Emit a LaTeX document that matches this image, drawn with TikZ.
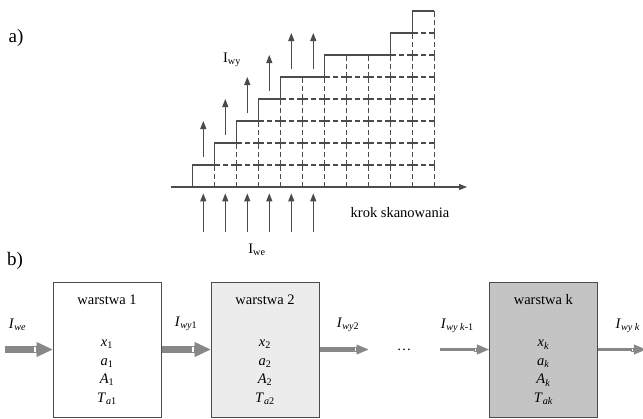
\documentclass[tikz,border=0pt]{standalone}
\usepackage{fontspec}
\setmainfont{Liberation Serif}
\usepackage{tikz}
\usetikzlibrary{arrows.meta,positioning}
\definecolor{ink}{RGB}{75,75,75}
\definecolor{pipegray}{RGB}{135,135,135}
\definecolor{layerlight}{RGB}{236,236,236}
\definecolor{layerdark}{RGB}{196,196,196}
\newcommand{\zm}[2]{\textit{#1}\textsubscript{#2}}

\begin{document}
\begin{tikzpicture}[x=1pt, y=-1pt,
  font=\fontsize{14.5}{17}\selectfont,
  outline/.style={draw=ink, line width=1.1pt},
  gridline/.style={draw=ink, line width=1.1pt, dash pattern=on 11pt off 3pt on 5pt off 3pt, dash phase=5.5pt},
  flow/.style={draw=ink, line width=1.1pt, -{Triangle[length=8pt,width=6pt]}},
  layer/.style={draw=ink, line width=1pt, minimum width=108pt, minimum height=135pt, align=center, inner sep=0pt, font=\fontsize{14.5}{18.5}\selectfont},
  tag/.style={inner sep=1pt},
  pipe/.style={draw=pipegray, line width=7pt, -{Rectangle[fill=white,length=4pt,width=7pt,line width=0.8pt]Triangle[length=16pt,width=15pt,line width=0.5pt]}},
  pipemid/.style={draw=pipegray, line width=5pt, -{Rectangle[fill=white,length=3pt,width=5pt,line width=0.7pt]Triangle[length=12pt,width=10pt,line width=0.5pt]}},
  pipethin/.style={draw=pipegray, line width=3.5pt, -{Rectangle[fill=white,length=3pt,width=3.5pt,line width=0.6pt]Triangle[length=12pt,width=10pt,line width=0.5pt]}},
]
  \useasboundingbox (0,0) rectangle (643,418);

  \node (parta) at (16,38) {\fontsize{19}{22}\selectfont a)};
  \node (partb) at (15,261) {\fontsize{19}{22}\selectfont b)};

  \draw[flow] (171,187) -- (467,187);
  \begin{scope}[shift={(192.3,187)}, x=22pt, y=22pt]
    \draw[outline] (0,0) -- (0,1) -- (1,1) -- (1,2) -- (2,2) -- (2,3) -- (3,3) -- (3,4) -- (4,4) -- (4,5)
      -- (6,5) -- (6,6) -- (9,6) -- (9,7) -- (10,7) -- (10,8) -- (11,8);
    \foreach \i/\h in {1/1,2/2,3/3,4/4,5/5,6/5,7/6,8/6,9/6,10/7,11/8}
      \draw[gridline] (\i,0) -- (\i,\h);
    \foreach \j/\s in {1/1,2/2,3/3,4/4,5/6,6/9,7/10}
      \draw[gridline] (\s,\j) -- (11,\j);
    \foreach \i/\h in {0/1,1/2,2/3,3/4,4/5,5/5}{
      \draw[flow] ([yshift=8pt]{\i+.5},\h) -- ([yshift=44pt]{\i+.5},\h);
      \draw[flow] ([yshift=-44.7pt]{\i+.5},0) -- ([yshift=-6.3pt]{\i+.5},0);
    }
  \end{scope}
  \node[tag] (wylabel) at (232,60) {I\textsubscript{wy}};
  \node[tag] (welabel) at (257,250) {I\textsubscript{we}};
  \node[tag] (steplabel) at (400,213) {krok skanowania};

  \node[layer] (w1) at (107,349.5) {warstwa 1\\[24pt]\zm{x}{1}\\\zm{a}{1}\\\zm{A}{1}\\\zm{T}{\textit{a}1}};
  \node[layer, fill=layerlight, right=49pt of w1] (w2) {warstwa 2\\[24pt]\zm{x}{2}\\\zm{a}{2}\\\zm{A}{2}\\\zm{T}{\textit{a}2}};
  \node[minimum width=71pt, inner sep=0pt, right=49pt of w2] (dots) {\dots};
  \node[layer, fill=layerdark, right=49pt of dots] (wk) {warstwa k\\[24pt]\zm{x}{\textit{k}}\\\zm{a}{\textit{k}}\\\zm{A}{\textit{k}}\\\zm{T}{\textit{ak}}};
  \coordinate[left=48pt of w1.west] (in);
  \coordinate[right=48pt of wk.east] (out);

  \draw[pipe] (in) -- node[tag, above=14pt, xshift=-11pt] {\zm{I}{\textit{we}}} (w1);
  \draw[pipe] (w1) -- node[tag, above=14pt] {\zm{I}{\textit{wy}1}} (w2);
  \draw[pipemid] (w2) -- node[tag, above=14pt, xshift=4pt] {\zm{I}{\textit{wy}2}} (dots);
  \draw[pipethin] (dots) -- node[tag, above=14pt, xshift=-7pt] {\zm{I}{\textit{wy k}-1}} (wk);
  \draw[pipethin, line width=3pt] (wk) -- node[tag, above=14pt, xshift=6pt] {\zm{I}{\textit{wy k}}} (out);
\end{tikzpicture}
\end{document}
